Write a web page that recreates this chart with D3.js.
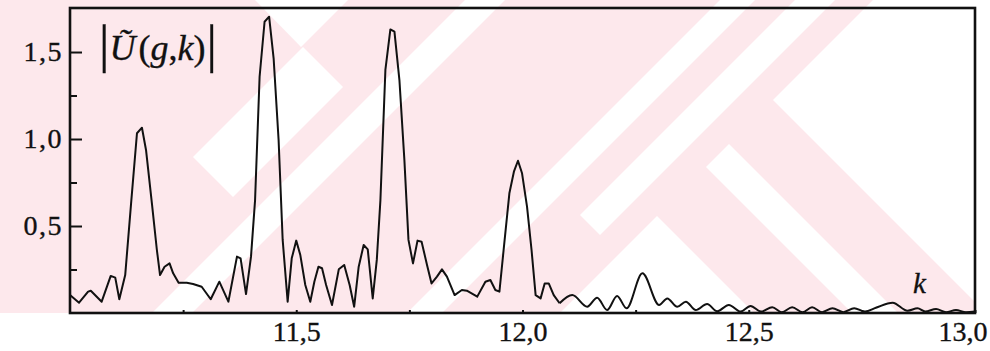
<!DOCTYPE html>
<html>
<head>
<meta charset="utf-8">
<script src="https://cdn.jsdelivr.net/npm/d3@7"></script>
<style>
  html, body { margin: 0; padding: 0; background: #fff; }
  svg { display: block; }
  text { font-family: "Liberation Serif", "Times New Roman", serif; fill: #111; stroke: #111; stroke-width: 0.35px; }
</style>
</head>
<body>
<svg id="chart" width="990" height="351"></svg>
<script>
// Spectrum |U(g,k)| sampled along k
const kValues = [
  11.000, 11.020, 11.040, 11.046, 11.070, 11.090, 11.100, 11.109, 11.122, 11.135,
  11.148, 11.159, 11.168, 11.181, 11.192, 11.199, 11.209, 11.220, 11.228, 11.240,
  11.258, 11.272, 11.291, 11.311, 11.330, 11.350, 11.369, 11.377, 11.389, 11.400,
  11.409, 11.419, 11.430, 11.440, 11.450, 11.461, 11.470, 11.481, 11.490, 11.500,
  11.509, 11.520, 11.531, 11.540, 11.549, 11.557, 11.566, 11.579, 11.594, 11.606,
  11.618, 11.628, 11.638, 11.649, 11.658, 11.669, 11.678, 11.686, 11.697, 11.708,
  11.717, 11.728, 11.739, 11.748, 11.758, 11.768, 11.777, 11.789, 11.799, 11.811,
  11.822, 11.833, 11.850, 11.866, 11.877, 11.900, 11.918, 11.929, 11.940, 11.949,
  11.959, 11.971, 11.981, 11.990, 11.999, 12.010, 12.020, 12.029, 12.040, 12.049,
  12.058, 12.069, 12.082,
  12.110, 12.143, 12.165, 12.187, 12.209, 12.230, 12.265, 12.302, 12.320, 12.342,
  12.361, 12.383, 12.408, 12.430, 12.456, 12.482, 12.504, 12.527, 12.552, 12.573,
  12.596, 12.619, 12.640, 12.662, 12.685, 12.709, 12.733, 12.757, 12.781, 12.818,
  12.851, 12.873, 12.890, 12.914, 12.936, 12.958, 12.980, 13.000
];
const uValues = [
  0.103, 0.059, 0.123, 0.128, 0.065, 0.213, 0.203, 0.079, 0.218, 0.630,
  1.033, 1.065, 0.937, 0.630, 0.362, 0.218, 0.266, 0.285, 0.228, 0.174,
  0.174, 0.167, 0.151, 0.079, 0.180, 0.065, 0.324, 0.314, 0.109, 0.324,
  0.649, 1.358, 1.674, 1.703, 1.464, 0.994, 0.420, 0.065, 0.314, 0.416,
  0.333, 0.161, 0.065, 0.180, 0.266, 0.257, 0.161, 0.046, 0.251, 0.276,
  0.161, 0.036, 0.266, 0.391, 0.366, 0.084, 0.305, 0.649, 1.397, 1.630,
  1.617, 1.339, 0.879, 0.420, 0.285, 0.416, 0.410, 0.276, 0.170, 0.209,
  0.251, 0.209, 0.103, 0.132, 0.128, 0.094, 0.180, 0.190, 0.132, 0.123,
  0.381, 0.688, 0.812, 0.875, 0.803, 0.611, 0.362, 0.103, 0.084, 0.170,
  0.170, 0.103, 0.056,
  0.103, 0.036, 0.088, 0.017, 0.098, 0.027, 0.228, 0.046, 0.084, 0.036,
  0.065, 0.017, 0.052, 0.010, 0.046, 0.008, 0.040, 0.008, 0.033, 0.005,
  0.033, 0.005, 0.033, 0.005, 0.027, 0.005, 0.027, 0.008, 0.030, 0.059,
  0.013, 0.027, 0.008, 0.023, 0.005, 0.017, 0.005, 0.008
];
// beyond this k the sampled tail is drawn as a smooth ripple
const smoothFrom = 12.082;

const yMajorTicks = [0.5, 1.0, 1.5];
const yMinorTicks = [0.25, 0.75, 1.25];
const xMajorTicks = [11.5, 12.0, 12.5, 13.0];
const xMinorTicks = [11.25, 11.75, 12.25, 12.75];

const W = 990, H = 351;
const margin = { left: 70, right: 15, top: 8, bottom: 38 };
const innerW = W - margin.left - margin.right;
const innerH = H - margin.top - margin.bottom;

const svg = d3.select("#chart");

// pale background emblem behind the plot
const pink = "#fde8ec";
const bg = svg.append("g");
bg.append("rect").attr("x", 0).attr("y", 0).attr("width", 975).attr("height", 313).attr("fill", pink);
const whiteShapes = [
  [[873, 0], [990, 0], [990, 313], [986, 313], [773, 100]],
  [[706, 167], [729, 144], [898, 313], [852, 313]],
  [[657, 216], [754, 313], [560, 313]],
  [[720, 0], [755, 0], [442, 313], [407, 313]],
  [[795, 0], [835, 0], [600, 235], [580, 215]],
  [[465, 0], [505, 0], [192, 313], [152, 313]],
  [[255, 0], [348, 0], [301, 47]],
  [[193, 157], [303, 47], [343, 87], [233, 197]]
];
bg.selectAll("polygon").data(whiteShapes).join("polygon")
  .attr("points", d => d.map(p => p.join(",")).join(" "))
  .attr("fill", "#fff");

const x = d3.scaleLinear().domain([11.0, 13.0]).range([margin.left, margin.left + innerW]);
const y = d3.scaleLinear().domain([0, 1.753]).range([margin.top + innerH, margin.top]);

const locale = d3.formatLocale({ decimal: ",", thousands: " ", grouping: [3], currency: ["", ""] });
const fmt = locale.format(".1f");

const points = kValues.map((k, i) => ({ k, u: uValues[i] }));
const headPts = points.filter(d => d.k <= smoothFrom);
const tailPts = points.filter(d => d.k >= smoothFrom);

const lineLinear = d3.line().x(d => x(d.k)).y(d => y(d.u)).curve(d3.curveLinear);
const lineSmooth = d3.line().x(d => x(d.k)).y(d => y(d.u)).curve(d3.curveMonotoneX);

svg.append("path").datum(headPts).attr("d", lineLinear)
  .attr("fill", "none").attr("stroke", "#111").attr("stroke-width", 2).attr("stroke-linejoin", "round");
svg.append("path").datum(tailPts).attr("d", lineSmooth)
  .attr("fill", "none").attr("stroke", "#111").attr("stroke-width", 2).attr("stroke-linejoin", "round");

// left axis: major ticks with labels, minor ticks without
svg.append("g").attr("class", "y-major").attr("transform", `translate(${margin.left},0)`)
  .call(d3.axisLeft(y).tickValues(yMajorTicks).tickFormat(fmt).tickSize(-12).tickPadding(7));
svg.append("g").attr("transform", `translate(${margin.left},0)`)
  .call(d3.axisLeft(y).tickValues(yMinorTicks).tickFormat("").tickSize(-7));

const xAxis = svg.append("g").attr("transform", `translate(0,${margin.top + innerH})`)
  .call(d3.axisBottom(x).tickValues(xMajorTicks).tickFormat(fmt).tickSize(-3).tickPadding(8));
svg.append("g").attr("transform", `translate(0,${margin.top + innerH})`)
  .call(d3.axisBottom(x).tickValues(xMinorTicks).tickFormat("").tickSize(-3));

svg.selectAll(".domain").remove();
svg.selectAll(".tick line").attr("stroke", "#111").attr("stroke-width", 2);
svg.selectAll(".tick text").attr("font-size", 28).attr("font-family", "Liberation Serif, serif").attr("fill", "#111");
svg.selectAll(".y-major .tick text").attr("letter-spacing", 1.5);
xAxis.selectAll(".tick text").filter(d => d === 13.0).attr("text-anchor", "end").attr("x", 12);

// frame
svg.append("rect")
  .attr("x", margin.left).attr("y", margin.top)
  .attr("width", innerW).attr("height", innerH)
  .attr("fill", "none").attr("stroke", "#111").attr("stroke-width", 2.6);

// quantity label
const title = svg.append("text").attr("x", 99).attr("y", 60).attr("font-size", 36);
title.append("tspan").attr("font-size", 52).attr("dy", 2).text("|");
title.append("tspan").attr("font-style", "italic").attr("dy", -2).text("Ũ");
title.append("tspan").attr("dx", 3).text("(");
title.append("tspan").attr("font-style", "italic").text("g");
title.append("tspan").text(",");
title.append("tspan").attr("font-style", "italic").text("k");
title.append("tspan").text(")");
title.append("tspan").attr("font-size", 52).attr("dy", 2).attr("dx", 1).text("|");

// axis variable
svg.append("text").attr("x", 913).attr("y", 293).attr("font-size", 29).attr("font-style", "italic").text("k");
</script>
</body>
</html>
